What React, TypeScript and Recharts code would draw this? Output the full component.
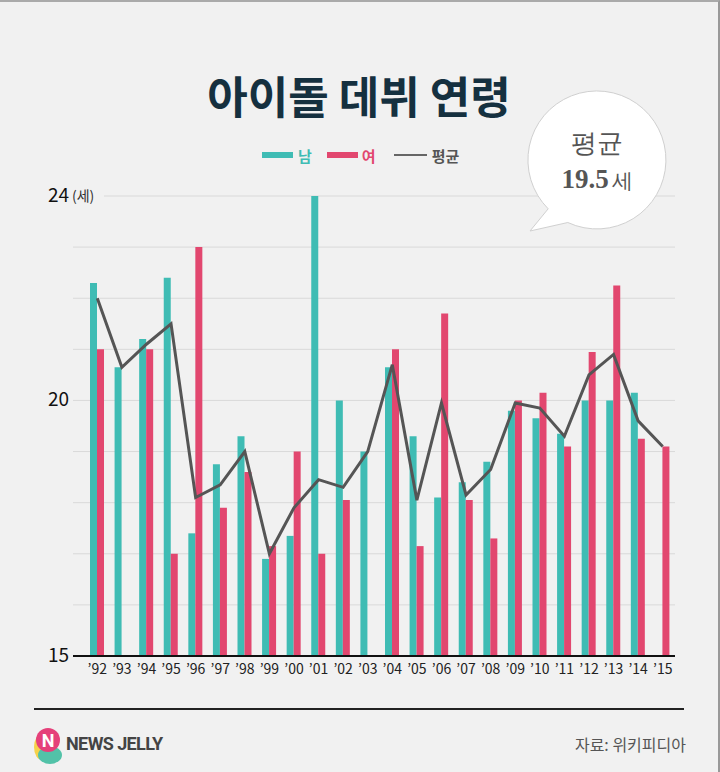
import { ComposedChart, Bar, Line, XAxis, YAxis, CartesianGrid } from 'recharts'

const BG = '#f1f1f1'
const TEAL = '#3fbcb4'
const PINK = '#e2476f'
const AVG_COLOR = '#555555'
const FONT = '"Noto Sans CJK KR", "Noto Sans", sans-serif'

// 데뷔 연도
const years = ['92', '93', '94', '95', '96', '97', '98', '99', '00', '01', '02', '03',
  '04', '05', '06', '07', '08', '09', '10', '11', '12', '13', '14', '15']

// 남자 아이돌 평균 데뷔 나이
const male = [22.3, 20.65, 21.2, 22.4, 17.4, 18.75, 19.3, 16.9, 17.35, 24.0, 20.0, 19.0,
  20.65, 19.3, 18.1, 18.4, 18.8, 19.8, 19.65, 19.35, 20.0, 20.0, 20.15, null]

// 여자 아이돌 평균 데뷔 나이
const female = [21.0, null, 21.0, 17.0, 23.0, 17.9, 18.6, 17.15, 19.0, 17.0, 18.05, null,
  21.0, 17.15, 21.7, 18.05, 17.3, 20.0, 20.15, 19.1, 20.95, 22.25, 19.25, 19.1]

// 전체 평균
const average = [22.0, 20.65, 21.1, 21.5, 18.1, 18.35, 19.0, 17.0, 17.9, 18.45, 18.3, 19.0,
  20.7, 18.05, 19.95, 18.15, 18.65, 19.95, 19.85, 19.3, 20.5, 20.9, 19.6, 19.1]

const yTicks = [15, 20, 24]
const gridValues = [15, 16, 17, 18, 19, 20, 21, 22, 23, 24]

const data = years.map((y, i) => ({
  year: '\u2019' + y,
  male: male[i],
  female: female[i],
  avg: average[i]
}))

const YTick = (props: any) => {
  const { y, payload } = props
  if (payload.value === 24) {
    return (
      <g>
        <rect x={71} y={y - 10} width={33} height={20} fill={BG} />
        <text x={69} y={y} dy={6} textAnchor="end" fontSize={19} fill="#111" fontFamily={FONT}>24</text>
        <text x={72} y={y} dy={5} fontSize={14} fill="#333" fontFamily={FONT}>(세)</text>
      </g>
    )
  }
  return (
    <text x={69} y={y} dy={6} textAnchor="end" fontSize={19} fill="#111" fontFamily={FONT}>
      {payload.value}
    </text>
  )
}

function Logo() {
  return (
    <svg width={30} height={42} style={{ position: 'absolute', left: 33, top: 722 }}>
      <ellipse cx={9} cy={23} rx={8} ry={13} fill="#f6d24a" />
      <ellipse cx={17} cy={31} rx={12} ry={9} fill="#52c2a8" />
      <circle cx={15} cy={16} r={12} fill="#e5407a" />
      <text x={15} y={23} textAnchor="middle" fontSize={18} fontWeight={700} fill="#fff" fontFamily="Roboto, sans-serif">N</text>
    </svg>
  )
}

function Bubble() {
  return (
    <svg width={180} height={160} style={{ position: 'absolute', left: 505, top: 88 }}>
      <path
        d="M 43.2 118.8 A 69 69 0 1 1 62.8 132.5 L 25 141 Z"
        fill="#ffffff"
        stroke="#d0d0d0"
        strokeWidth={1}
      />
      <text x={92} y={62} textAnchor="middle" fontSize={26} fill="#555" fontFamily={'"Liberation Serif", serif'}>평균</text>
      <text x={92} y={98} textAnchor="middle" fill="#555" fontFamily={'"Liberation Serif", serif'}>
        <tspan fontSize={27} fontWeight={700}>19.5</tspan>
        <tspan fontSize={21} dx={3}>세</tspan>
      </text>
    </svg>
  )
}

export default function App() {
  return (
    <div
      style={{
        position: 'absolute',
        left: 0,
        top: 0,
        width: 720,
        height: 772,
        background: BG,
        fontFamily: FONT,
        boxSizing: 'border-box',
        borderTop: '2px solid #aaa',
        borderRight: '2px solid #999'
      }}
    >
      <div style={{ position: 'absolute', left: 0, top: 0 }}>
        <ComposedChart
          width={720}
          height={772}
          data={data}
          margin={{ top: 194, right: 45, bottom: 88, left: 0 }}
          barGap={0}
        >
          <CartesianGrid
            vertical={false}
            horizontalValues={gridValues}
            stroke="#d9d9d9"
            strokeWidth={1}
          />
          <XAxis
            dataKey="year"
            height={30}
            padding={{ left: 12, right: 0 }}
            axisLine={{ stroke: '#111', strokeWidth: 2 }}
            tickLine={false}
            interval={0}
            tick={{ fontSize: 14, fill: '#222', fontFamily: FONT }}
            tickMargin={2}
          />
          <YAxis
            width={73}
            domain={[15, 24]}
            ticks={yTicks}
            allowDataOverflow
            axisLine={false}
            tickLine={false}
            tick={<YTick />}
          />
          <Bar dataKey="male" fill={TEAL} barSize={7} isAnimationActive={false} />
          <Bar dataKey="female" fill={PINK} barSize={7} isAnimationActive={false} />
          <Line
            dataKey="avg"
            type="linear"
            stroke={AVG_COLOR}
            strokeWidth={3}
            dot={false}
            activeDot={false}
            isAnimationActive={false}
          />
        </ComposedChart>
      </div>

      <div
        style={{
          position: 'absolute',
          left: 0,
          width: 718,
          top: 64,
          textAlign: 'center',
          fontSize: 44,
          fontWeight: 700,
          color: '#15303f',
          lineHeight: '58px'
        }}
      >
        아이돌 데뷔 연령
      </div>

      <div style={{ position: 'absolute', left: 262, top: 142, height: 22, display: 'flex', alignItems: 'center', fontSize: 15, fontWeight: 700 }}>
        <span style={{ display: 'inline-block', width: 31, height: 6, background: TEAL }} />
        <span style={{ color: TEAL, marginLeft: 5 }}>남</span>
        <span style={{ display: 'inline-block', width: 31, height: 6, background: PINK, marginLeft: 15 }} />
        <span style={{ color: PINK, marginLeft: 4 }}>여</span>
        <span style={{ display: 'inline-block', width: 33, height: 2, background: '#666', marginLeft: 18 }} />
        <span style={{ color: '#555', marginLeft: 5 }}>평균</span>
      </div>

      <Bubble />

      <div style={{ position: 'absolute', left: 34, top: 706, width: 650, height: 2, background: '#222' }} />
      <Logo />
      <div
        style={{
          position: 'absolute',
          left: 66,
          top: 731,
          fontFamily: 'Roboto, sans-serif',
          fontWeight: 700,
          fontSize: 18,
          letterSpacing: -0.6,
          color: '#444'
        }}
      >
        NEWS JELLY
      </div>
      <div style={{ position: 'absolute', right: 32, top: 730, fontSize: 16, color: '#555' }}>
        자료: 위키피디아
      </div>
    </div>
  )
}
